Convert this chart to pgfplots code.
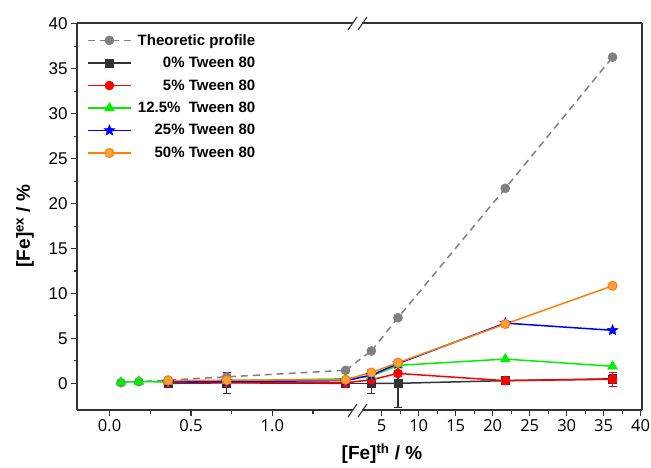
\documentclass[border=0pt]{standalone}
\usepackage{fontspec}
\setmainfont{Liberation Sans}
\newfontfamily\osans{Open Sans}
\usepackage{pgfplots}
\pgfplotsset{compat=1.18}

\definecolor{thgray}{RGB}{128,128,128}
\definecolor{dk}{RGB}{51,51,51}
\definecolor{myred}{RGB}{255,0,0}
\definecolor{mygreen}{RGB}{0,240,0}
\definecolor{myblue}{RGB}{0,0,255}
\definecolor{myorange}{RGB}{255,128,0}

% filled five-point star
\pgfdeclareplotmark{fstar}{%
  \pgfpathmoveto{\pgfpointpolar{90}{\pgfplotmarksize}}%
  \pgfpathlineto{\pgfpointpolar{126}{0.45\pgfplotmarksize}}%
  \pgfpathlineto{\pgfpointpolar{162}{\pgfplotmarksize}}%
  \pgfpathlineto{\pgfpointpolar{198}{0.45\pgfplotmarksize}}%
  \pgfpathlineto{\pgfpointpolar{234}{\pgfplotmarksize}}%
  \pgfpathlineto{\pgfpointpolar{270}{0.45\pgfplotmarksize}}%
  \pgfpathlineto{\pgfpointpolar{306}{\pgfplotmarksize}}%
  \pgfpathlineto{\pgfpointpolar{342}{0.45\pgfplotmarksize}}%
  \pgfpathlineto{\pgfpointpolar{18}{\pgfplotmarksize}}%
  \pgfpathlineto{\pgfpointpolar{54}{0.45\pgfplotmarksize}}%
  \pgfpathclose
  \pgfusepathqfillstroke}

\pgfplotsset{
  brk/.style={
    scale only axis, height=387pt, ymin=-2.97, ymax=40.1,
    axis line style={line width=1.2pt, dk},
    tick align=outside,
    major tick length=6pt, minor tick length=3.5pt,
    tick style={line width=1.1pt, dk},
    /pgf/number format/assume math mode=true,
    x tick label style={font=\osans\fontsize{16.5}{18}\selectfont},
    y tick label style={font=\fontsize{17}{19}\selectfont},
    legend image code/.code={\draw[mark repeat=2,mark phase=2] plot coordinates {(0pt,0pt)(21.5pt,0pt)(43pt,0pt)};},
  },
  th/.style={color=thgray, line width=1.5pt, dash pattern=on 7pt off 5pt, mark=*, mark size=4.5pt, mark options={solid, line width=0.6pt, fill=thgray}},
  s0/.style={color=dk, line width=1.5pt, mark=square*, mark size=4pt, mark options={solid, line width=0.6pt, fill=dk}},
  s5/.style={color=myred, line width=1.5pt, mark=*, mark size=4.5pt, mark options={solid, line width=0.6pt, fill=myred}},
  s12/.style={color=mygreen, line width=1.5pt, mark=triangle*, mark size=5.5pt, mark options={solid, line width=0.6pt, fill=mygreen}},
  s25/.style={color=myblue, line width=1.5pt, mark=fstar, mark size=5.5pt, mark options={solid, line width=0.6pt, fill=myblue}},
  s50/.style={color=myorange, line width=1.5pt, mark=*, mark size=4.5pt, mark options={solid, line width=1pt, fill=myorange!75!white}},
  eb/.style={forget plot, draw=none, mark=none, error bars/.cd, y dir=both, y explicit,
    error bar style={line width=1.1pt, solid, #1},
    error mark options={rotate=90, mark size=4pt, line width=1.1pt, #1}},
}

\begin{document}
\begin{tikzpicture}
\useasboundingbox (0pt,0pt) rectangle (651pt,-467pt);

% left segment of the broken x axis
\begin{axis}[brk, at={(77pt,-410pt)}, anchor=south west, width=280pt,
  xmin=-0.20, xmax=1.52,
  axis x line*=bottom, axis y line*=left,
  xtick={0,0.5,1}, minor xtick={0.25,0.75,1.25},
  xticklabel style={/pgf/number format/.cd, fixed, fixed zerofill, precision=1},
  ytick={0,5,...,40}, minor y tick num=1,
  legend cell align=right,
  legend style={draw=none, fill=none, at={(axis description cs:0,1)}, anchor=north west,
    xshift=7pt, yshift=-7pt, row sep=6.5pt,
    /tikz/every odd column/.append style={column sep=4pt},
    font=\fontsize{15}{18}\selectfont\bfseries},
]
\addplot[eb=dk] coordinates {(0.36,0.0) +- (0,0.3) (0.72,0.05) +- (0,1.2) (1.45,0.0) +- (0,0.3)};
\addplot[th] coordinates {(0.07,0.07) (0.18,0.18) (0.36,0.36) (0.72,0.72) (1.45,1.45)};
\addlegendentry{Theoretic profile}
\addplot[s0] coordinates {(0.36,0.0) (0.72,0.05) (1.45,0.0)};
\addlegendentry{0\% Tween 80}
\addplot[s5] coordinates {(0.36,0.05) (0.72,0.1) (1.45,0.05)};
\addlegendentry{5\% Tween 80}
\addplot[s12] coordinates {(0.07,0.12) (0.18,0.2) (0.36,0.15) (0.72,0.3) (1.45,0.5)};
\addlegendentry{12.5\%\ \ Tween 80}
\addplot[s25] coordinates {(0.36,0.15) (0.72,0.2) (1.45,0.3)};
\addlegendentry{25\% Tween 80}
\addplot[s50] coordinates {(0.36,0.3) (0.72,0.35) (1.45,0.4)};
\addlegendentry{50\% Tween 80}
% segments running into the break (1.61 is where x = 3.6 sits on this scale)
\addplot[th, mark=none, forget plot] coordinates {(1.45,1.45) (1.61,3.6)};
\addplot[s0, mark=none, forget plot] coordinates {(1.45,0.0) (1.61,0.0)};
\addplot[s5, mark=none, forget plot] coordinates {(1.45,0.05) (1.61,0.4)};
\addplot[s12, mark=none, forget plot] coordinates {(1.45,0.5) (1.61,0.8)};
\addplot[s25, mark=none, forget plot] coordinates {(1.45,0.3) (1.61,0.9)};
\addplot[s50, mark=none, forget plot] coordinates {(1.45,0.4) (1.61,1.2)};
\end{axis}

% right segment of the broken x axis
\begin{axis}[brk, at={(357pt,-410pt)}, anchor=south west, width=285pt,
  xmin=1.66, xmax=40.18,
  axis x line*=bottom, axis y line*=right,
  xtick={5,10,...,40}, minor xtick={7.5,12.5,...,37.5},
  ytick=\empty,
]
\addplot[eb=dk] coordinates {(3.6,0.0) +- (0,1.1) (7.2,0.0) +- (0,2.7) (21.7,0.3) +- (0,0.25) (36.2,0.5) +- (0,0.5)};
\addplot[eb=myred] coordinates {(7.2,1.1) +- (0,0.3) (36.2,0.45) +- (0,0.8)};
\addplot[eb=myorange] coordinates {(3.6,1.2) +- (0,0.3) (7.2,2.3) +- (0,0.4) (36.2,10.85) +- (0,0.2)};
% segments coming out of the break (0.04 is where x = 1.45 sits on this scale)
\addplot[th, mark=none] coordinates {(0.04,1.45) (3.6,3.6)};
\addplot[s0, mark=none] coordinates {(0.04,0.0) (3.6,0.0)};
\addplot[s5, mark=none] coordinates {(0.04,0.05) (3.6,0.4)};
\addplot[s12, mark=none] coordinates {(0.04,0.5) (3.6,0.8)};
\addplot[s25, mark=none] coordinates {(0.04,0.3) (3.6,0.9)};
\addplot[s50, mark=none] coordinates {(0.04,0.4) (3.6,1.2)};
\addplot[th] coordinates {(3.6,3.6) (7.2,7.3) (21.7,21.7) (36.2,36.3)};
\addplot[s0] coordinates {(3.6,0.0) (7.2,0.0) (21.7,0.3) (36.2,0.5)};
\addplot[s5] coordinates {(3.6,0.4) (7.2,1.1) (21.7,0.3) (36.2,0.45)};
\addplot[s12] coordinates {(3.6,0.8) (7.2,2.0) (21.7,2.7) (36.2,1.9)};
\addplot[s25] coordinates {(3.6,0.9) (7.2,2.2) (21.7,6.7) (36.2,5.9)};
\addplot[s50] coordinates {(3.6,1.2) (7.2,2.3) (21.7,6.6) (36.2,10.85)};
\end{axis}

% top frame line
\draw[dk, line width=1.2pt] (77pt,-23pt) -- (642pt,-23pt);
% break marks
\fill[white] (353pt,-407pt) rectangle (362pt,-413pt);
\fill[white] (353pt,-20pt) rectangle (362pt,-26pt);
\draw[dk, line width=1.1pt] (348pt,-417pt) -- (357pt,-404pt) (358pt,-417pt) -- (367pt,-404pt);
\draw[dk, line width=1.1pt] (348pt,-30pt) -- (357pt,-17pt) (358pt,-30pt) -- (367pt,-17pt);

% axis titles
\node[rotate=90, font=\fontsize{19}{22}\selectfont\bfseries] at (25pt,-226pt) {[Fe]\textsuperscript{ex} / \%};
\node[font=\fontsize{19}{22}\selectfont\bfseries] at (382pt,-454pt) {[Fe]\textsuperscript{th} / \%};
\end{tikzpicture}
\end{document}
